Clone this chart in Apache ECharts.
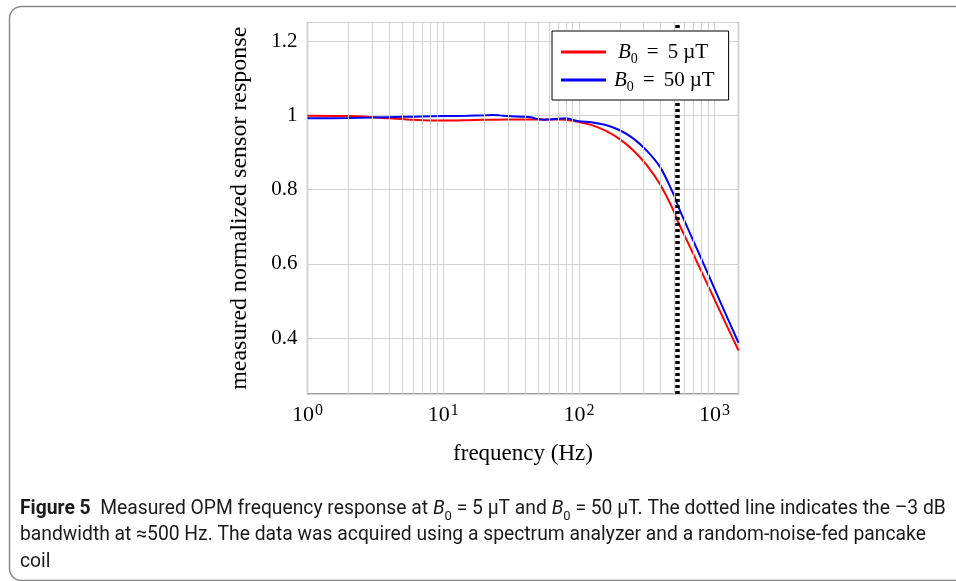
<!DOCTYPE html>
<html>
<head>
<meta charset="utf-8">
<script src="https://cdn.jsdelivr.net/npm/echarts@6/dist/echarts.min.js"></script>
<style>
html,body{margin:0;padding:0;background:#fff;}
#chart{width:956px;height:581px;}
</style>
</head>
<body>
<div id="chart"></div>
<script>
// ---- data ----
const freq5 = [1, 2, 3, 4, 5, 6, 7, 8, 10, 12, 15, 20, 30, 40, 50, 60, 70, 80, 100, 126, 158, 200, 251, 316, 398, 501, 535, 631, 794, 1000, 1259, 1500];
const resp5 = [0.999, 0.998, 0.995, 0.992, 0.990, 0.988, 0.987, 0.986, 0.986, 0.986, 0.987, 0.988, 0.989, 0.989, 0.989, 0.989, 0.989, 0.988, 0.982, 0.973, 0.958, 0.936, 0.906, 0.866, 0.813, 0.742, 0.715, 0.660, 0.582, 0.504, 0.426, 0.367];
const freq50 = [1, 2, 3, 5, 7, 10, 15, 20, 23, 26, 30, 40, 45, 50, 55, 60, 70, 80, 90, 100, 126, 158, 200, 251, 316, 398, 501, 535, 631, 794, 1000, 1259, 1500];
const resp50 = [0.992, 0.993, 0.994, 0.996, 0.997, 0.998, 0.999, 1.000, 1.001, 1.000, 0.998, 0.996, 0.994, 0.990, 0.988, 0.989, 0.991, 0.992, 0.988, 0.984, 0.981, 0.974, 0.960, 0.938, 0.905, 0.860, 0.786, 0.758, 0.698, 0.616, 0.533, 0.450, 0.388];
const bandwidthHz = 535;
const minorX = [2,3,4,5,6,7,8,9,20,30,40,50,60,70,80,90,200,300,400,500,600,700,800,900];
const yTicks = [0.4, 0.6, 0.8, 1, 1.2];
const seriesNames = ['B0 = 5 µT', 'B0 = 50 µT'];
const legendValues = ['5', '50'];
const xMin = 1, xMax = 1500, yMin = 0.25, yMax = 1.25;

const serif = "'Liberation Serif', 'DejaVu Serif', serif";
const capFont = "Roboto, 'Noto Sans', sans-serif";
const chart = echarts.init(document.getElementById('chart'));

function zip(a, b) { return a.map((v, i) => [v, b[i]]); }

const legendRich = {
  i: {fontFamily: serif, fontStyle: 'italic', fontSize: 21, color: '#000', lineHeight: 22},
  s: {fontFamily: serif, fontSize: 14, color: '#000', lineHeight: 14, verticalAlign: 'bottom', padding: [0, 0, -3, 0]},
  e: {fontFamily: serif, fontSize: 21, color: '#000', lineHeight: 22, padding: [0, 9, 0, 9]},
  n: {fontFamily: serif, fontSize: 21, color: '#000', lineHeight: 22},
  u: {fontFamily: serif, fontSize: 21, color: '#000', lineHeight: 22, padding: [0, 0, 0, 5]},
  p1: {width: 7, lineHeight: 22},
  p2: {width: 3, lineHeight: 22}
};

const option = {
  animation: false,
  backgroundColor: '#fff',
  grid: {left: 307.5, top: 22.5, right: 217.5, bottom: 187, show: true, borderColor: '#404040', borderWidth: 1.2, backgroundColor: 'transparent'},
  xAxis: {
    type: 'log', logBase: 10, min: xMin, max: xMax,
    axisLine: {show: false}, axisTick: {show: false},
    splitLine: {show: true, lineStyle: {color: '#d2d2d2', width: 1}},
    axisLabel: {
      margin: 9, showMaxLabel: false,
      formatter: function (v) {
        const e = Math.round(Math.log10(v));
        if (Math.abs(Math.pow(10, e) - v) > 1e-6 * v) return '';
        return '{b|10}{s|' + e + '}';
      },
      rich: {
        b: {fontFamily: serif, fontSize: 22, color: '#000'},
        s: {fontFamily: serif, fontSize: 16, color: '#000', verticalAlign: 'top', padding: [0, 0, 8, 1]}
      }
    },
    name: 'frequency (Hz)', nameLocation: 'middle', nameGap: 48,
    nameTextStyle: {fontFamily: serif, fontSize: 23, color: '#000'}
  },
  yAxis: {
    type: 'value', min: yMin, max: yMax, splitNumber: 5,
    axisLine: {show: false}, axisTick: {show: false},
    splitLine: {show: true, lineStyle: {color: '#d2d2d2', width: 1}},
    axisLabel: {
      margin: 10, fontFamily: serif, fontSize: 21, color: '#000',
      formatter: function (v) {
        for (const t of yTicks) { if (Math.abs(t - v) < 1e-6) return String(t); }
        return '';
      }
    },
    name: 'measured normalized sensor response', nameLocation: 'middle', nameGap: 56,
    nameTextStyle: {fontFamily: serif, fontSize: 24, color: '#000'}
  },
  legend: {
    orient: 'vertical', left: 552, top: 31, z: 20,
    data: seriesNames,
    icon: 'rect', itemWidth: 45, itemHeight: 3, itemGap: 3,
    padding: [10, 14, 6, 9],
    borderColor: '#000', borderWidth: 1, backgroundColor: '#fff',
    formatter: function (name) {
      const i = seriesNames.indexOf(name);
      return (i === 0 ? '{p1|}' : '{p2|}') + '{i|B}{s|0}{e|=}{n|' + legendValues[i] + '}{u|µT}';
    },
    textStyle: {rich: legendRich, fontFamily: serif, fontSize: 21, color: '#000', lineHeight: 22}
  },
  series: [
    {
      name: 'minor', type: 'line', data: [], silent: true, z: 1,
      markLine: {
        silent: true, symbol: ['none', 'none'], animation: false,
        label: {show: false},
        lineStyle: {color: '#d2d2d2', width: 1, type: 'solid'},
        emphasis: {disabled: true},
        data: minorX.map(v => ({xAxis: v}))
      }
    },
    {
      name: seriesNames[0], type: 'line', data: zip(freq5, resp5), smooth: 0.3,
      showSymbol: false, symbol: 'none', z: 3,
      lineStyle: {color: '#ff0000', width: 2}, itemStyle: {color: '#ff0000'}
    },
    {
      name: seriesNames[1], type: 'line', data: zip(freq50, resp50), smooth: 0.3,
      showSymbol: false, symbol: 'none', z: 3,
      lineStyle: {color: '#0000ff', width: 2}, itemStyle: {color: '#0000ff'}
    },
    {
      name: 'bw', type: 'line', data: [], silent: true, z: 5,
      markLine: {
        silent: true, symbol: ['none', 'none'], animation: false,
        label: {show: false},
        lineStyle: {color: '#000', width: 4.5, type: [3, 3]},
        emphasis: {disabled: true},
        data: [{xAxis: bandwidthHz}]
      }
    }
  ],
  graphic: [
    {
      type: 'rect', left: 7, top: 4, silent: true, z: 0,
      shape: {width: 1000, height: 574, r: 12},
      style: {fill: 'none', stroke: '#8a8a8a', lineWidth: 1.5}
    },
    {
      type: 'text', left: 20, top: 498,
      style: {
        text: '{b|Figure 5}  Measured OPM frequency response at {i|B}{s|0} = 5 µT and {i|B}{s|0} = 50 µT. The dotted line indicates the –3 dB',
        font: '19.3px ' + capFont, fill: '#1a1a1a',
        rich: {
          b: {fontFamily: capFont, fontWeight: 'bold', fontSize: 19.3, fill: '#1a1a1a', lineHeight: 22},
          i: {fontFamily: capFont, fontStyle: 'italic', fontSize: 19.3, fill: '#1a1a1a', lineHeight: 22},
          s: {fontFamily: capFont, fontSize: 13, fill: '#1a1a1a', lineHeight: 14, verticalAlign: 'bottom', padding: [0, 0, -3, 0]}
        },
        lineHeight: 22
      }
    },
    {
      type: 'text', left: 20, top: 526,
      style: {text: 'bandwidth at ≈500 Hz. The data was acquired using a spectrum analyzer and a random-noise-fed pancake', font: '19.3px ' + capFont, fill: '#1a1a1a'}
    },
    {
      type: 'text', left: 20, top: 553,
      style: {text: 'coil', font: '19.3px ' + capFont, fill: '#1a1a1a'}
    }
  ]
};
chart.setOption(option);
</script>
</body>
</html>
